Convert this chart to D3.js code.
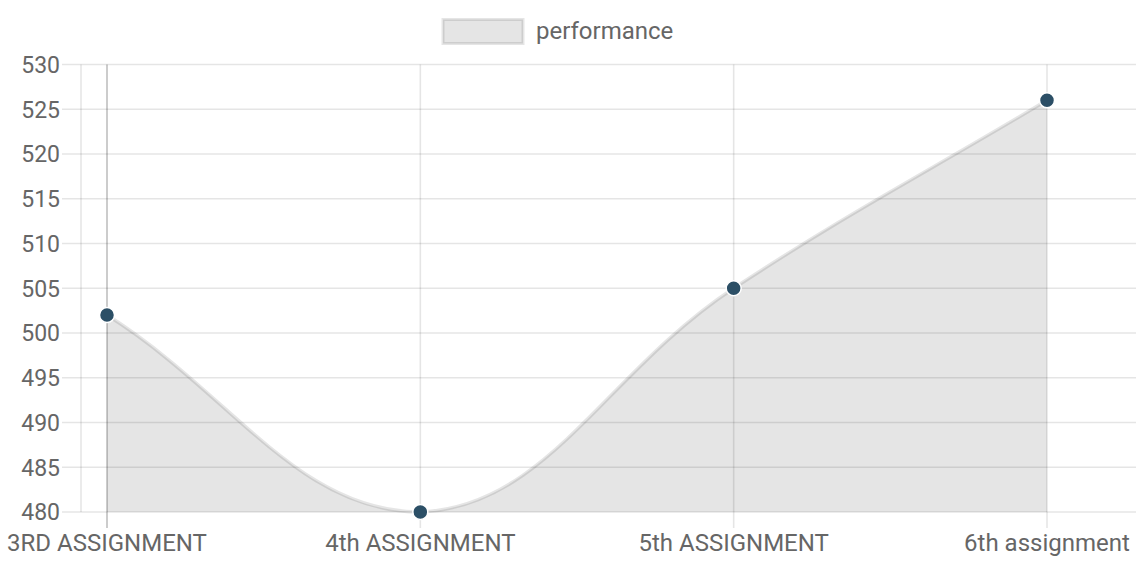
<!DOCTYPE html>
<html>
<head>
<meta charset="utf-8">
<script src="https://cdn.jsdelivr.net/npm/d3@7"></script>
<style>
  html, body { margin: 0; padding: 0; background: #fff; }
  svg { display: block; font-family: Roboto, sans-serif; }
</style>
</head>
<body>
<svg id="chart" width="1136" height="568"></svg>
<script>
const categories = ["3RD ASSIGNMENT", "4th ASSIGNMENT", "5th ASSIGNMENT", "6th assignment"];
const performance = [502, 480, 505, 526];
const yTicks = [480, 485, 490, 495, 500, 505, 510, 515, 520, 525, 530];
const seriesName = "performance";

const padL = 81, padR = 1136, padT = 64.5, padB = 512;
const svg = d3.select("#chart");

const x = d3.scalePoint().domain(categories).range([107, 1047]);
const y = d3.scaleLinear().domain([480, 530]).range([padB, padT]);

const grid = svg.append("g");
grid.selectAll("line.h").data(yTicks).join("line")
  .attr("x1", 62).attr("x2", padR)
  .attr("y1", d => y(d)).attr("y2", d => y(d))
  .attr("stroke", "rgba(0,0,0,0.1)").attr("stroke-width", 1.6);
grid.append("line").attr("x1", padL).attr("x2", padL)
  .attr("y1", padT).attr("y2", padB)
  .attr("stroke", "rgba(0,0,0,0.1)").attr("stroke-width", 1.6);
grid.selectAll("line.v").data(categories).join("line")
  .attr("x1", d => x(d)).attr("x2", d => x(d))
  .attr("y1", padT).attr("y2", 528)
  .attr("stroke", (d, i) => i === 0 ? "rgba(0,0,0,0.25)" : "rgba(0,0,0,0.1)")
  .attr("stroke-width", 1.6);

svg.append("g").selectAll("text").data(yTicks).join("text")
  .attr("x", 60).attr("y", d => y(d))
  .attr("dy", "0.36em")
  .attr("text-anchor", "end")
  .attr("font-size", 23).attr("fill", "#666")
  .text(d => d);

svg.append("g").selectAll("text").data(categories).join("text")
  .attr("x", d => x(d)).attr("y", 551)
  .attr("text-anchor", "middle")
  .attr("font-size", 24).attr("fill", "#666")
  .text(d => d);

const pts = performance.map((v, i) => ({ x: x(categories[i]), y: y(v) }));
const tension = 0.4;
pts.forEach((p, i) => {
  const prev = pts[i - 1] || p, next = pts[i + 1] || p;
  const d01 = Math.hypot(p.x - prev.x, p.y - prev.y);
  const d12 = Math.hypot(next.x - p.x, next.y - p.y);
  let s01 = d01 / (d01 + d12), s12 = d12 / (d01 + d12);
  if (isNaN(s01)) s01 = 0; if (isNaN(s12)) s12 = 0;
  const fa = tension * s01, fb = tension * s12;
  p.cpPrev = { x: p.x - fa * (next.x - prev.x), y: p.y - fa * (next.y - prev.y) };
  p.cpNext = { x: p.x + fb * (next.x - prev.x), y: p.y + fb * (next.y - prev.y) };
  const clampY = v => Math.max(padT, Math.min(padB, v));
  p.cpPrev.y = clampY(p.cpPrev.y); p.cpNext.y = clampY(p.cpNext.y);
});
function linePath(closeArea) {
  const pth = d3.path();
  pth.moveTo(pts[0].x, pts[0].y);
  for (let i = 1; i < pts.length; i++) {
    const a = pts[i - 1], b = pts[i];
    pth.bezierCurveTo(a.cpNext.x, a.cpNext.y, b.cpPrev.x, b.cpPrev.y, b.x, b.y);
  }
  if (closeArea) {
    pth.lineTo(pts[pts.length - 1].x, y(480));
    pth.lineTo(pts[0].x, y(480));
    pth.closePath();
  }
  return pth.toString();
}
svg.append("path").attr("d", linePath(true)).attr("fill", "rgba(0,0,0,0.1)");
svg.append("path").attr("d", linePath(false)).attr("fill", "none")
  .attr("stroke", "rgba(0,0,0,0.1)").attr("stroke-width", 3.5);

svg.append("g").selectAll("circle").data(pts).join("circle")
  .attr("cx", d => d.x).attr("cy", d => d.y).attr("r", 7.5)
  .attr("fill", "#2c4f66").attr("stroke", "#fff").attr("stroke-width", 1.5);

const lg = svg.append("g");
lg.append("rect").attr("x", 443).attr("y", 19.5).attr("width", 80).attr("height", 24)
  .attr("fill", "rgba(0,0,0,0.1)").attr("stroke", "rgba(0,0,0,0.1)").attr("stroke-width", 3);
lg.append("text").attr("x", 536).attr("y", 39).attr("font-size", 24).attr("fill", "#666")
  .text(seriesName);
</script>
</body>
</html>
